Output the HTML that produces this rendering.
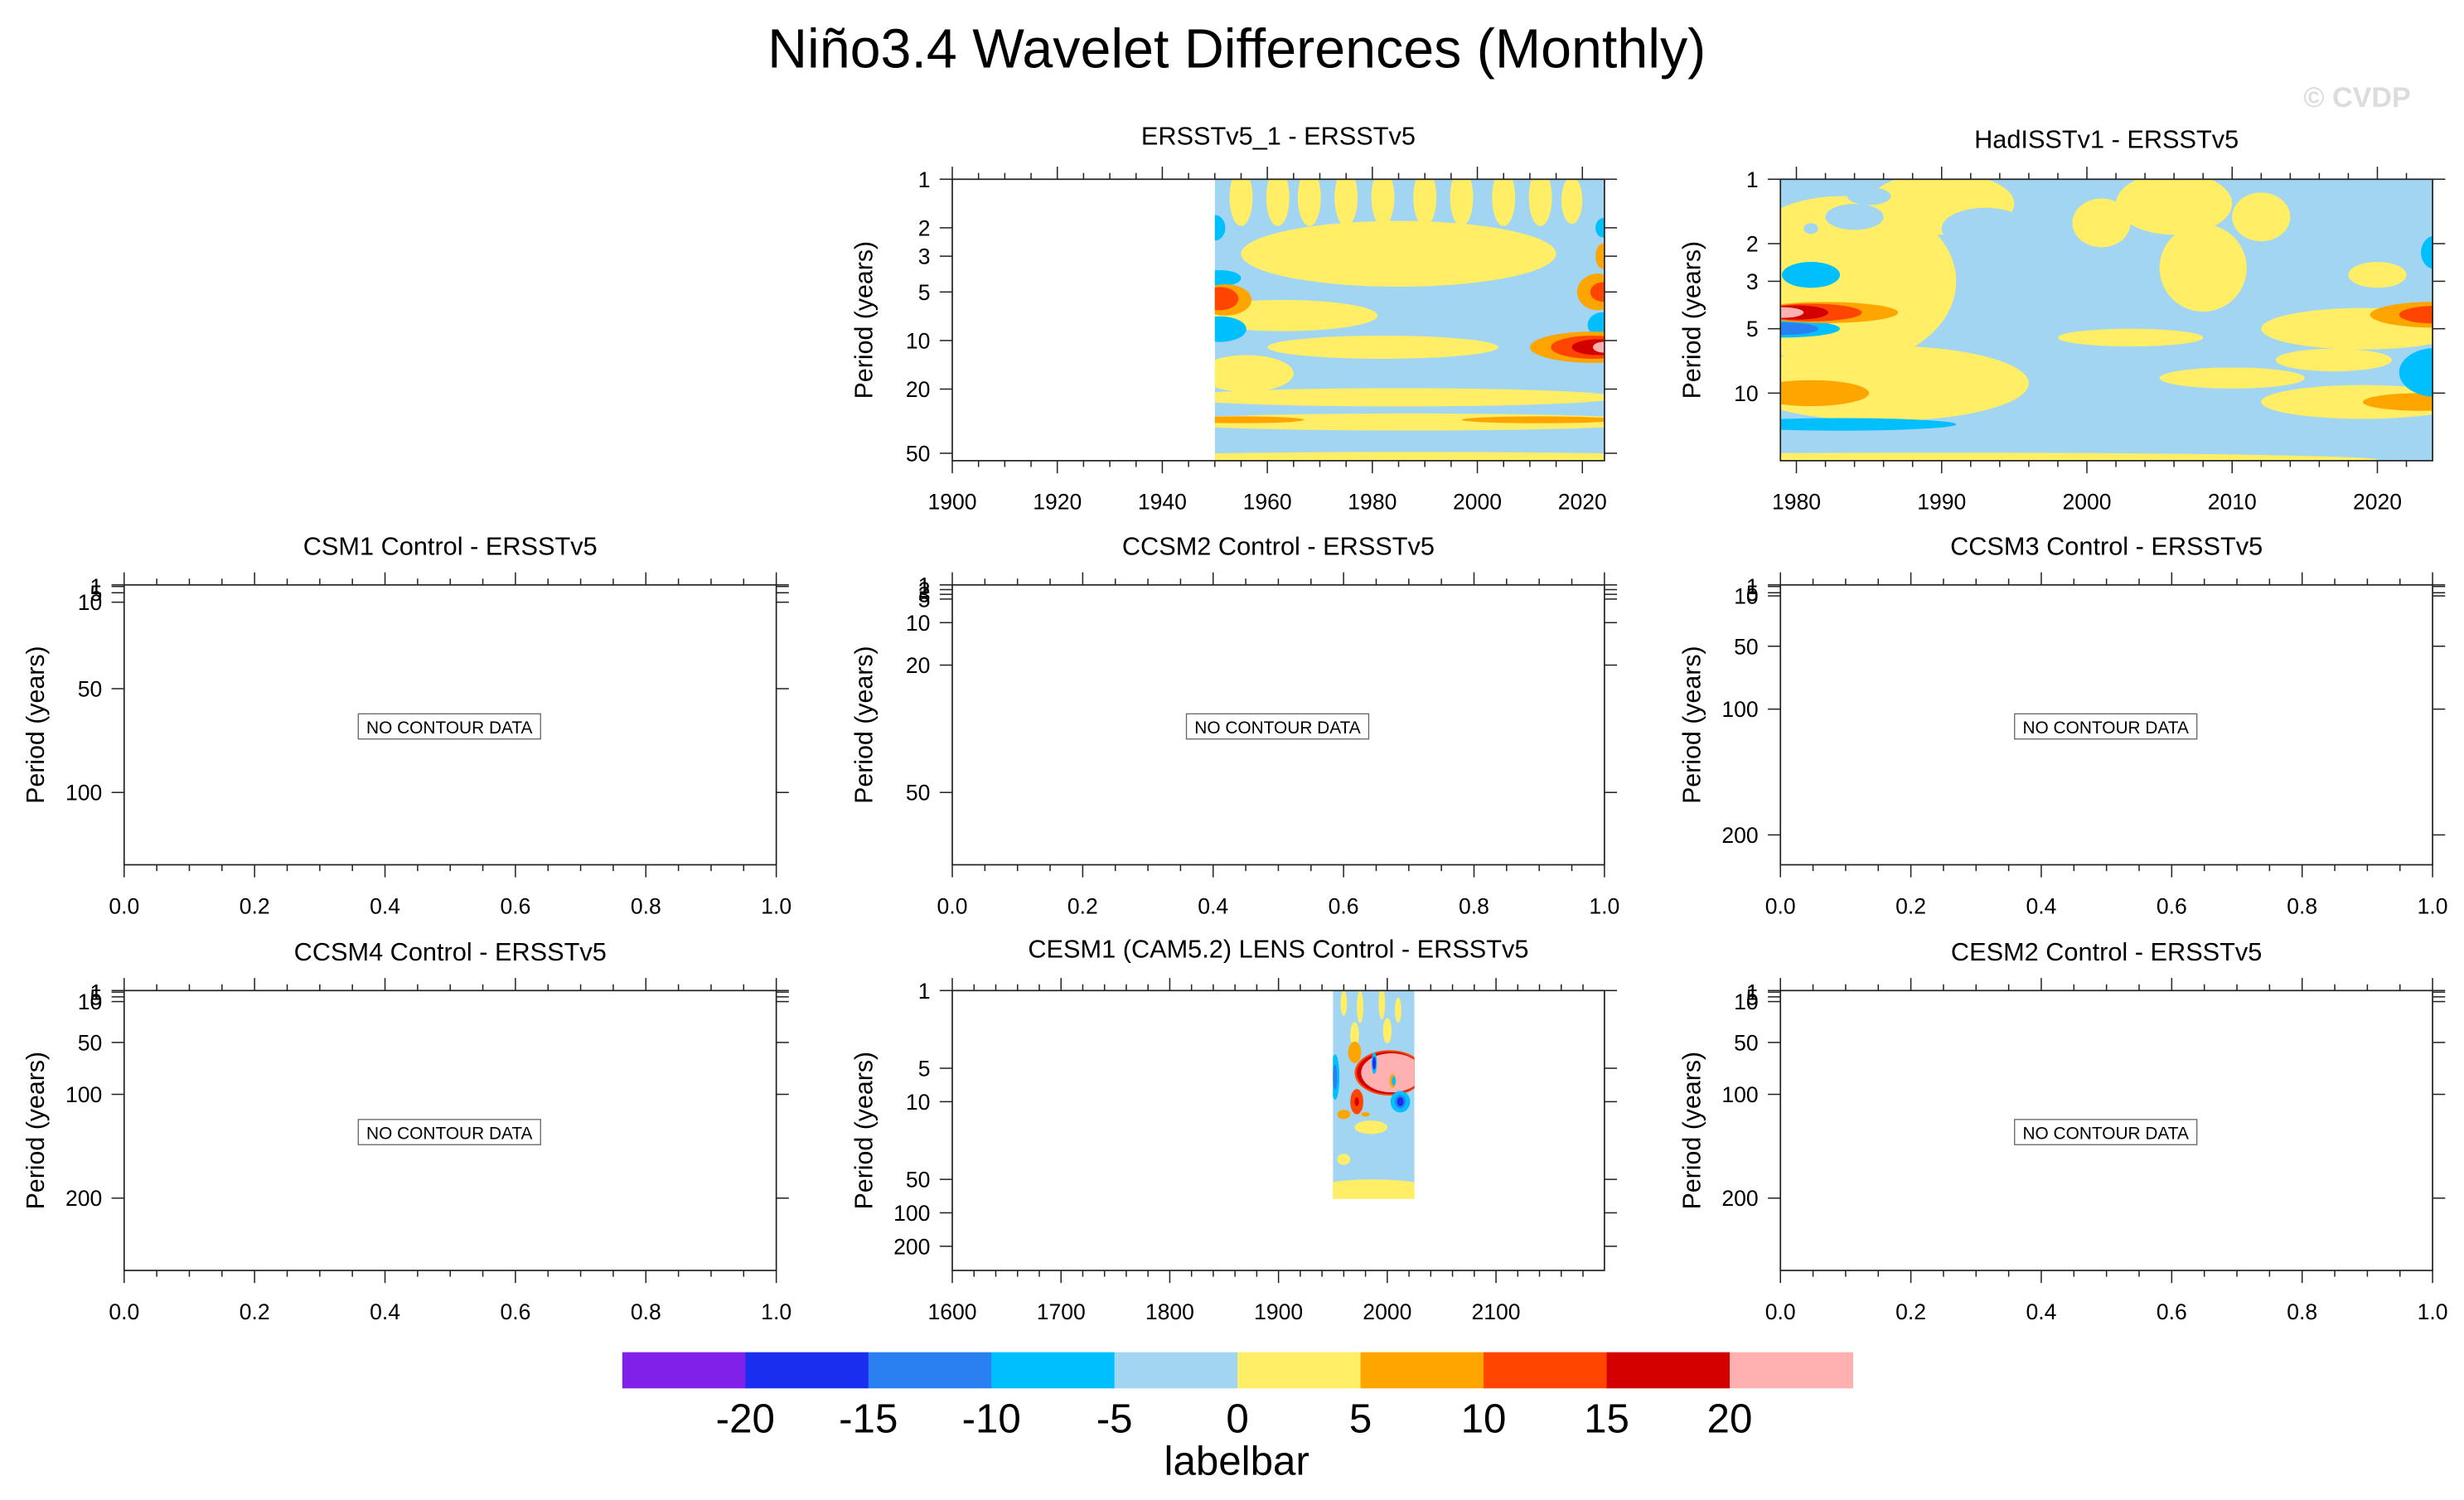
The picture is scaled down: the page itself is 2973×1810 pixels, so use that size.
<!DOCTYPE html>
<html><head><meta charset="utf-8"><title>Niño3.4 Wavelet Differences</title>
<style>html,body{margin:0;padding:0;background:#fff;}svg{display:block;font-family:"Liberation Sans",sans-serif;}</style>
</head><body>
<svg id="chart" width="2973" height="1810" viewBox="0 0 1568 954" preserveAspectRatio="none" xmlns="http://www.w3.org/2000/svg">
<text x="787" y="43" font-size="35" text-anchor="middle">Niño3.4 Wavelet Differences (Monthly)</text>
<text x="1500" y="68" font-size="18" font-weight="bold" fill="#dcdcdc" text-anchor="middle">© CVDP</text>
<g id="panels"></g>
<g id="labelbar"></g>
</svg>
<script>
// contour level colours and labelbar labels
const levelColors = ["#8020e8","#1a2ef0","#2a80f0","#00bfff","#a2d5f2","#ffee66","#ffa500","#ff4500","#d40000","#ffb0b0"];
const levelLabels = ["-20","-15","-10","-5","0","5","10","15","20"];
const levelBreaks = [-20,-15,-10,-5,0,5,10,15,20];
// blob data: [yearCenter, periodCenter, halfWidthYears, periodFactor, value]
const erssBlobs = [
 [1955,1.3,2.2,1.5,3],[1962,1.3,2.2,1.5,3],[1968,1.3,2.2,1.5,3],[1975,1.3,2.2,1.5,3],[1982,1.3,2.2,1.5,3],
 [1990,1.3,2.2,1.5,3],[1997,1.3,2.2,1.5,3],[2005,1.3,2.2,1.5,3],[2012,1.3,2.2,1.5,3],[2018,1.35,2,1.4,3],
 [1985,2.9,30,1.6,3],[1963,7,18,1.25,3],[1982,11,22,1.18,3],[1956,16,9,1.3,3],[1985,22.5,42,1.14,3],
 [1987,32,48,1.13,3],[1955,31,12,1.05,7],[2012,31,15,1.05,7],[1987,53,55,1.08,3],
 [1951,4.1,4,1.12,-7],[1951,8.5,5,1.2,-7],[2024,8,3,1.2,-7],[1950,2,2,1.2,-7],[2024,2,1.5,1.15,-7],
 [1952,5.6,5,1.25,7],[1951,5.5,3.5,1.18,12],[2023,5,4,1.3,7],[2024,5,2.5,1.15,12],
 [2022,11,12,1.25,7],[2022,11,8,1.18,12],[2023,11,5,1.12,17],[2024,11,2,1.08,22],[2024,3,1.5,1.2,7]
];
const hadBlobs = [
 [1983,3,8,2.5,3],[1986,9,10,1.5,3],[1990,1.3,5,1.4,3],[2001,1.6,2,1.3,3],[2006,1.3,4,1.4,3],[2008,2.6,3,1.6,3],
 [2012,1.5,2,1.3,3],[2019,5,7,1.25,3],[2017,7,4,1.13,3],[2010,8.5,5,1.12,3],[2019,11,7,1.2,3],
 [1990,20.5,30,1.08,3],[2003,5.5,5,1.1,3],[2020,2.8,2,1.15,3],
 [1984,1.5,2,1.15,-2],[1993,1.7,3,1.25,-2],[1985,1.2,1.5,1.1,-2],[1981,1.7,0.5,1.06,-2],
 [1981,2.8,2,1.15,-7],[1979,5,4,1.1,-7],[1979,5,2.5,1.07,-12],[1983,14,8,1.07,-7],
 [1982,4.2,5,1.12,7],[1981,4.2,3.5,1.1,12],[1980,4.2,2.2,1.08,17],[1979,4.2,1.5,1.06,22],
 [1981,10,4,1.15,7],[2024,4.3,4.5,1.15,7],[2024,4.3,2.5,1.1,12],[2023,11,4,1.1,7],
 [2024,8,2.5,1.3,-7],[2024,2.2,1,1.2,-7]
];
const cesmBlobs = [
 [1987,65,60,1.3,3],[1960,33,6,1.12,3],[1985,17,15,1.15,3],[1960,13,6,1.1,7],[1980,13,4,1.05,7],
 [1960,1.3,3,1.3,3],[1975,1.4,3,1.4,3],[1995,1.3,3,1.4,3],[2010,1.5,3,1.3,3],[1970,2.5,4,1.3,3],[2000,2.3,4,1.3,3],
 [1952,6,4,1.6,-7],[1952,6,2,1.3,-12],
 [1970,3.6,6,1.25,7],[2002,5.5,32,1.6,12],[2002,5.5,30,1.55,17],[2004,5.5,28,1.5,22],
 [1988,4.5,2.5,1.25,-7],[1988,4.5,1.5,1.15,-17],[2005,6.5,3,1.15,7],[2006,6.5,1.8,1.1,-7],
 [2012,10,9,1.25,-7],[2012,10,5,1.15,-12],[2012,10,3,1.1,-17],
 [1972,10,6,1.3,12],[1972,10,2,1.1,17]
];

const NS="http://www.w3.org/2000/svg";
function mk(tag,attrs,parent){const e=document.createElementNS(NS,tag);for(const k in attrs)e.setAttribute(k,attrs[k]);if(parent)parent.appendChild(e);return e;}
function colorOf(v){let i=0;while(i<levelBreaks.length&&v>=levelBreaks[i])i++;return levelColors[i];}

const panels=[
 {name:"ersstv5-1-panel",title:"ERSSTv5_1 - ERSSTv5",ty:92,x0:606,x1:1021,y0:114,y1:293,xmin:1900,xmax:2024.2,pmax:55.6,
  xt:[1900,1920,1940,1960,1980,2000,2020],xminor:5,yt:[1,2,3,5,10,20,50],data:erssBlobs,dx:[1950,2024.2],dp:[1,55.6]},
 {name:"hadisstv1-panel",title:"HadISSTv1 - ERSSTv5",ty:94,x0:1133,x1:1548,y0:114,y1:293,xmin:1978.9,xmax:2023.8,pmax:20.7,
  xt:[1980,1990,2000,2010,2020],xminor:2,yt:[1,2,3,5,10],data:hadBlobs,dx:[1978.9,2023.8],dp:[1,20.7]},
 {name:"csm1-panel",title:"CSM1 Control - ERSSTv5",ty:353,x0:79,x1:494,y0:372,y1:550,yfix:[["1",373],["5",377],["10",383],["50",438],["100",504]]},
 {name:"ccsm2-panel",title:"CCSM2 Control - ERSSTv5",ty:353,x0:606,x1:1021,y0:372,y1:550,yfix:[["1",372],["2",375],["3",378],["5",381],["10",396],["20",423],["50",504]]},
 {name:"ccsm3-panel",title:"CCSM3 Control - ERSSTv5",ty:353,x0:1133,x1:1548,y0:372,y1:550,yfix:[["1",373],["5",377],["10",379],["50",411],["100",451],["200",531]]},
 {name:"ccsm4-panel",title:"CCSM4 Control - ERSSTv5",ty:611,x0:79,x1:494,y0:630,y1:808,yfix:[["1",631],["5",634],["10",637],["50",663],["100",696],["200",762]]},
 {name:"cesm1-lens-panel",title:"CESM1 (CAM5.2) LENS Control - ERSSTv5",ty:609,x0:606,x1:1021,y0:630,y1:808,xmin:1600,xmax:2199.7,pmax:330,
  xt:[1600,1700,1800,1900,2000,2100],xminor:20,yt:[1,5,10,50,100,200],data:cesmBlobs,dx:[1950,2025],dp:[1,75]},
 {name:"cesm2-panel",title:"CESM2 Control - ERSSTv5",ty:611,x0:1133,x1:1548,y0:630,y1:808,yfix:[["1",631],["5",634],["10",637],["50",663],["100",696],["200",762]]}
];
const root=document.getElementById('panels');
panels.forEach((P,pi)=>{
 const g=mk('g',{},root);
 
 
 const t=mk('text',{x:(P.x0+P.x1)/2,y:P.ty,'font-size':16.2,'text-anchor':'middle'},g);t.textContent=P.title;
 
 
 const yc=(P.y0+P.y1)/2;
 const yt=mk('text',{x:P.x0-51,y:yc,'font-size':16,'text-anchor':'middle',transform:`rotate(-90 ${P.x0-51} ${yc})`},g);
 yt.textContent="Period (years)";
 
 
 const nodata=!P.data;
 let xs,ys;
 if(nodata){P.xmin=0;P.xmax=1;P.xt=[0,0.2,0.4,0.6,0.8,1.0];P.xminor=0.05;}
 xs=v=>P.x0+(v-P.xmin)/(P.xmax-P.xmin)*(P.x1-P.x0);
 if(!nodata){ys=p=>P.y0+Math.log(p)/Math.log(P.pmax)*(P.y1-P.y0);}
 if(!nodata){
  const cid='clip'+pi;
  const cp=mk('clipPath',{id:cid},g);
  mk('rect',{x:xs(P.dx[0]),y:ys(P.dp[0]),width:xs(P.dx[1])-xs(P.dx[0]),height:ys(P.dp[1])-ys(P.dp[0])},cp);
  const dg=mk('g',{'clip-path':`url(#${cid})`},g);
  
  
  const bg=mk('rect',{x:xs(P.dx[0]),y:ys(P.dp[0]),width:xs(P.dx[1])-xs(P.dx[0]),height:ys(P.dp[1])-ys(P.dp[0]),fill:colorOf(-2)},dg);
  
  
  const sy=(P.y1-P.y0)/Math.log(P.pmax);
  P.data.forEach(b=>{
   const e=mk('ellipse',{cx:xs(b[0]),cy:ys(b[1]),rx:b[2]*(P.x1-P.x0)/(P.xmax-P.xmin),ry:Math.log(b[3])*sy,fill:colorOf(b[4])},dg);
   
   
  });
 }
 mk('rect',{x:P.x0,y:P.y0,width:P.x1-P.x0,height:P.y1-P.y0,fill:'none',stroke:'#222','stroke-width':0.9},g);
 const ax=mk('g',{stroke:'#222','stroke-width':0.8},g);
 
 
 for(let v=P.xmin===0?0:P.xt[0];v<=P.xmax+1e-9;v+=P.xminor){
  const x=xs(v);if(x<P.x0-0.5||x>P.x1+0.5)continue;
  const major=P.xt.some(m=>Math.abs(m-v)<1e-6);const L=major?8:4;
  mk('line',{x1:x,y1:P.y0,x2:x,y2:P.y0-L},ax);mk('line',{x1:x,y1:P.y1,x2:x,y2:P.y1+L},ax);
 }
 for(let v=P.xt[0]-P.xminor;v>=P.xmin-1e-9;v-=P.xminor){const x=xs(v);mk('line',{x1:x,y1:P.y0,x2:x,y2:P.y0-4},ax);mk('line',{x1:x,y1:P.y1,x2:x,y2:P.y1+4},ax);}
 P.xt.forEach(v=>{const tx=mk('text',{x:xs(v),y:P.y1+31,'font-size':14,'text-anchor':'middle',fill:'#000',stroke:'none'},g);tx.textContent=nodata?v.toFixed(1):String(v);
  
  });
 const yl=nodata?P.yfix:P.yt.map(p=>[String(p),ys(p)]);
 yl.forEach(([lab,y])=>{
  mk('line',{x1:P.x0,y1:y,x2:P.x0-8,y2:y},ax);mk('line',{x1:P.x1,y1:y,x2:P.x1+8,y2:y},ax);
  const tx=mk('text',{x:P.x0-14,y:y+5,'font-size':14,'text-anchor':'end'},g);tx.textContent=lab;
  
  
 });
 mk('line',{x1:P.x0-8,y1:P.y0,x2:P.x1+8,y2:P.y0},ax);
 if(nodata){
  const cx=(P.x0+P.x1)/2-0.5,cy=462-372+P.y0;
  const r=mk('rect',{x:cx-58,y:cy-8,width:116,height:16,fill:'#fff',stroke:'#666','stroke-width':0.7},g);
  
  
  const tx=mk('text',{x:cx,y:cy+4.5,'font-size':11,'text-anchor':'middle'},g);tx.textContent="NO CONTOUR DATA";
  
  
 }
});
const lb=document.getElementById('labelbar');
const bx0=396,bx1=1179,bw=(bx1-bx0)/levelColors.length;
levelColors.forEach((c,i)=>{const r=mk('rect',{x:bx0+i*bw,y:860,width:bw+0.3,height:23,fill:c},lb);
 
 });
levelLabels.forEach((l,i)=>{const t=mk('text',{x:bx0+(i+1)*bw,y:911,'font-size':26,'text-anchor':'middle'},lb);t.textContent=l;
 
 });
const lt=mk('text',{x:787,y:938,'font-size':26,'text-anchor':'middle'},lb);lt.textContent="labelbar";


</script>
</body></html>
